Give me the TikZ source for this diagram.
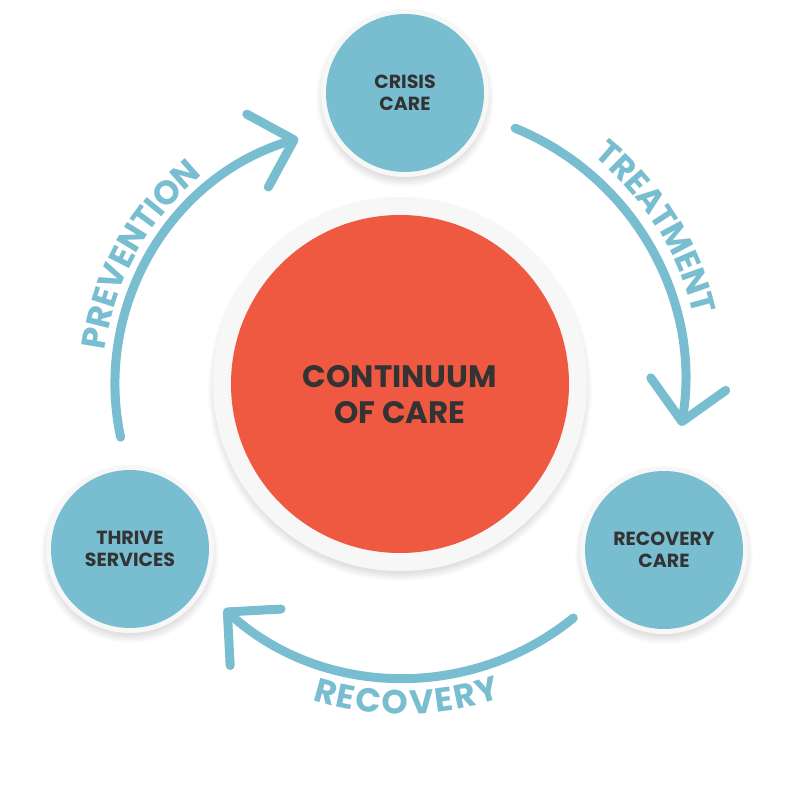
\documentclass[tikz,border=0pt]{standalone}
\usepackage{fontspec}
\setmainfont{Poppins}
\usetikzlibrary{arrows.meta,decorations.text,calc}

\definecolor{stageblue}{RGB}{120,190,208}
\definecolor{hubred}{RGB}{239,89,65}
\definecolor{inkgray}{RGB}{51,51,51}
\definecolor{ringgray}{RGB}{247,247,247}

\newcommand{\stagefont}{\bfseries\fontsize{19}{21.5}\selectfont}
\newcommand{\hubfont}{\bfseries\fontsize{31}{36}\selectfont}
\newcommand{\flowfont}{\bfseries\fontsize{33.5}{36}\selectfont}

\tikzset{
  stage/.style={circle, fill=stageblue, minimum size=158pt, inner sep=0pt, align=center, text=inkgray, font=\stagefont},
  hub/.style={circle, fill=hubred, minimum size=338pt, inner sep=0pt},
  hubtext/.style={align=center, text=inkgray, font=\hubfont},
  flow/.style={draw=stageblue, line width=9pt, line cap=round, -{Straight Barb[length=38pt,width=76pt,round]}},
  flowlabel/.style={decorate, decoration={text effects along path, text={#1},
      text effects/.cd, text along path, fit text to path,
      characters={text=stageblue, font=\flowfont, inner sep=0pt}}}
}

\begin{document}
\begin{tikzpicture}[x=1pt,y=1pt]
  \useasboundingbox (0,0) rectangle (800,800);
  % circle centres
  \coordinate (hubc) at (400,416);
  \coordinate (crisisc) at (405,707);
  \coordinate (thrivec) at (130,251);
  \coordinate (carec) at (664,250);
  % centres of the three arcs
  \coordinate (prevc) at (371,416);
  \coordinate (treatc) at (412,419);
  \coordinate (recc) at (404,391);

  % soft shadows and pale rings
  \foreach \p/\r in {hubc/187, crisisc/84, thrivec/84, carec/84} {
    \foreach \k in {0,...,9}
      \fill[black, opacity=0.012] ([yshift=-5pt]\p) circle[radius={\r pt+\k*0.9pt-3pt}];
    \fill[ringgray] (\p) circle[radius={\r pt}];
  }

  \node[hub] (hub) at (hubc) {};
  \node[hubtext] (hubtext) at ([yshift=-11pt]hubc) {CONTINUUM\\OF CARE};
  \node[stage] (crisis) at (crisisc) {CRISIS\\CARE};
  \node[stage] (thrive) at (thrivec) {THRIVE\\SERVICES};
  \node[stage] (care) at (carec) {RECOVERY\\CARE};

  % arrows
  \draw[flow] ([shift={(192:256pt)}]prevc) arc[start angle=192, end angle=106.5, radius=256pt];
  \draw[flow] ([shift={(67.8:273pt)}]treatc) arc[start angle=67.8, end angle=-9.5, radius=273pt];
  \draw[flow] ([shift={(-51:269pt)}]recc) arc[start angle=-51, end angle=-132, radius=269pt];

  % curved labels
  \path[flowlabel=PREVENTION] ([shift={(172.8:268pt)}]prevc) arc[start angle=172.8, end angle=128.9, radius=268pt];
  \path[flowlabel=TREATMENT] ([shift={(51.2:289pt)}]treatc) arc[start angle=51.2, end angle=13.1, radius=289pt];
  \path[flowlabel=RECOVERY] ([shift={(-107.5:305pt)}]recc) arc[start angle=-107.5, end angle=-71.5, radius=305pt];
\end{tikzpicture}
\end{document}
